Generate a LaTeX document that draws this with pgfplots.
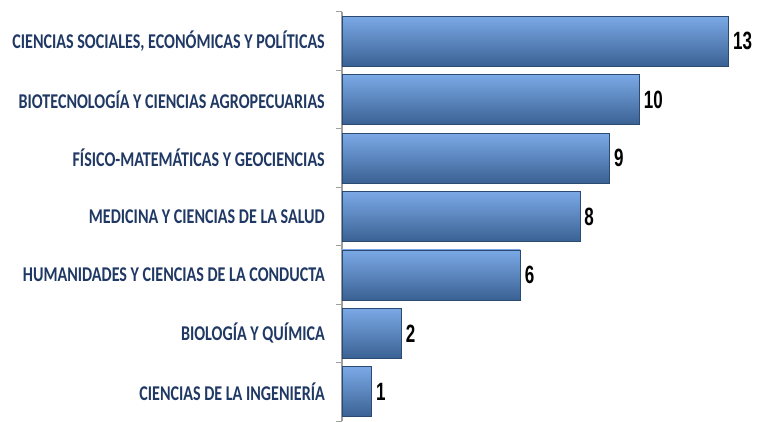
\documentclass[border=0pt]{standalone}
\usepackage{fontspec}
\setmainfont{Carlito}
\newfontfamily\numfont{Liberation Sans}
\usepackage{graphicx}
\usepackage{pgfplots}
\pgfplotsset{compat=1.18}
\definecolor{navy}{HTML}{1F3864}
\definecolor{barmid}{HTML}{5889C8}
\definecolor{bartop}{HTML}{7BA9E6}
\definecolor{barbot}{HTML}{3A6193}
\definecolor{baredge}{HTML}{2A4A72}
\newcommand\lab[1]{\scalebox{0.765}[1]{#1}}
\newcommand\val[1]{\scalebox{0.68}[1]{#1}}
\pgfplotsset{onebar/.style={xbar, bar shift=0pt, draw=baredge, line width=0.8bp, top color=bartop, middle color=barmid, bottom color=barbot}}
\begin{document}
\begin{tikzpicture}
\begin{axis}[
  scale only axis,
  width=415bp, height=409bp,
  xmin=0, xmax=13.95,
  ymin=-0.5, ymax=6.5,
  axis x line=none,
  axis y line*=left,
  y axis line style={draw=gray!75, line width=1.3bp, -},
  ytick={0,...,6},
  major tick length=0pt,
  minor ytick={-0.5,0.5,...,6.5},
  minor tick length=6bp,
  tick align=outside,
  minor tick style={draw=gray!75, line width=1bp},
  yticklabel style={font=\fontsize{21bp}{23bp}\selectfont\bfseries, text=navy, anchor=east, inner sep=0pt, xshift=-17bp},
  yticklabels={
    {\lab{CIENCIAS DE LA INGENIERÍA}},
    {\lab{BIOLOGÍA Y QUÍMICA}},
    {\lab{HUMANIDADES Y CIENCIAS DE LA CONDUCTA}},
    {\lab{MEDICINA Y CIENCIAS DE LA SALUD}},
    {\lab{FÍSICO-MATEMÁTICAS Y GEOCIENCIAS}},
    {\lab{BIOTECNOLOGÍA Y CIENCIAS AGROPECUARIAS}},
    {\lab{CIENCIAS SOCIALES, ECONÓMICAS Y POLÍTICAS}}
  },
  xbar, bar width=0.855,
  /pgf/number format/assume math mode=true,
  nodes near coords={\val{\pgfmathprintnumber\pgfplotspointmeta}},
  every node near coord/.append style={anchor=west, inner sep=0pt, xshift=4bp, font=\numfont\fontsize{25bp}{27bp}\selectfont\bfseries, text=black},
  clip=false,
]
\addplot[onebar] coordinates {(1,0)};
\addplot[onebar] coordinates {(2,1)};
\addplot[onebar] coordinates {(6,2)};
\addplot[onebar] coordinates {(8,3)};
\addplot[onebar] coordinates {(9,4)};
\addplot[onebar] coordinates {(10,5)};
\addplot[onebar] coordinates {(13,6)};
\coordinate (A) at (rel axis cs:0,0);
\coordinate (B) at (rel axis cs:1,1);
\end{axis}
\path ([xshift=-342bp]A) rectangle ([yshift=12bp]B);
\end{tikzpicture}
\end{document}
